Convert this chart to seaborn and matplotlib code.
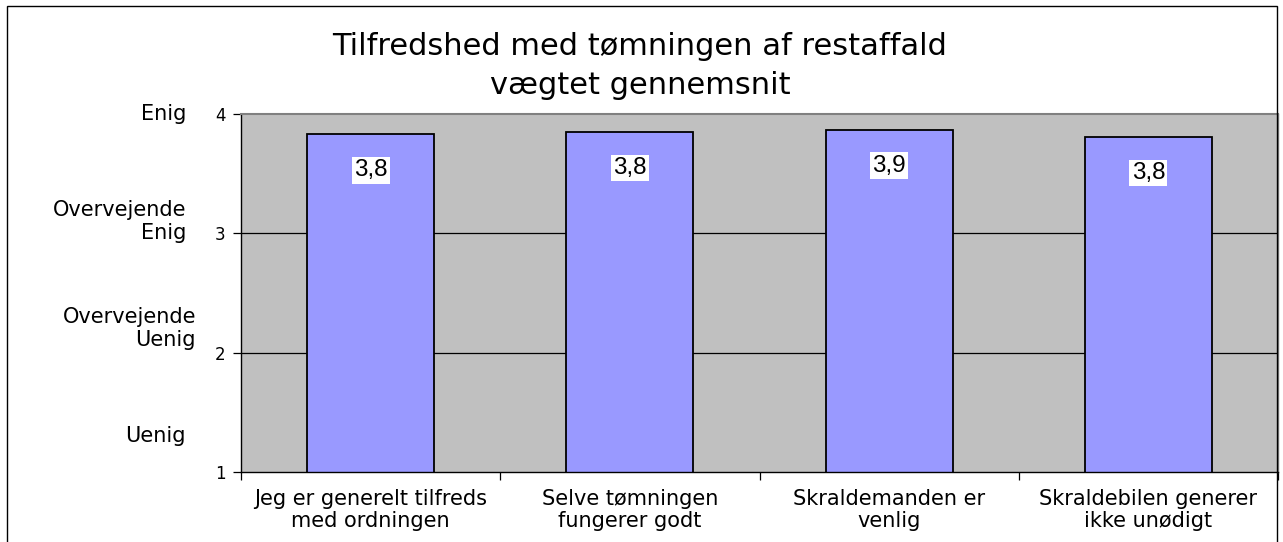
import numpy as np
import pandas as pd
import matplotlib
matplotlib.use("Agg")
import matplotlib.pyplot as plt
import seaborn as sns
from matplotlib.patches import Rectangle
from matplotlib.transforms import blended_transform_factory

# ==============================
# data
# ==============================
categories = [
    "Jeg er generelt tilfreds\nmed ordningen",
    "Selve tømningen\nfungerer godt",
    "Skraldemanden er\nvenlig",
    "Skraldebilen generer\nikke unødigt",
]
values = [3.83, 3.85, 3.87, 3.81]
value_labels = ["3,8", "3,8", "3,9", "3,8"]

y_ticks = [1, 2, 3, 4]
scale_labels = ["Enig", "Overvejende\nEnig", "Overvejende\nUenig", "Uenig"]
scale_pos = [4.0, 3.1, 2.2, 1.3]

title = "Tilfredshed med tømningen af restaffald\nvægtet gennemsnit"

df = pd.DataFrame({"kategori": categories, "score": values})

# ==============================
# plot
# ==============================
sns.set_theme(style="white")
plt.rcParams["font.family"] = ["DejaVu Sans"]
plt.rcParams["text.color"] = "black"
plt.rcParams["xtick.color"] = "black"
plt.rcParams["ytick.color"] = "black"

fig = plt.figure(figsize=(12.83, 5.42), dpi=100)
ax = fig.add_axes([241 / 1283, 1 - 472 / 542, (1278 - 241) / 1283, (472 - 114) / 542])
ax.set_facecolor("#c0c0c0")

sns.barplot(data=df, x="kategori", y="score", ax=ax, color="#9999ff",
            saturation=1, width=0.49, edgecolor="black", linewidth=1.3)

ax.set_ylim(1, 4)
ax.set_xlim(-0.5, len(categories) - 0.5)
ax.set_yticks(y_ticks)
ax.set_yticklabels([str(t) for t in y_ticks], fontsize=12)
ax.set_xlabel("")
ax.set_ylabel("")

# gitterlinjer
for t in [2, 3]:
    ax.axhline(t, color="black", linewidth=0.9, zorder=0.5)

# x-akse: labels i midten, tick-mærker mellem kategorierne
ax.set_xticks(range(len(categories)))
ax.set_xticklabels(categories, fontsize=15, linespacing=1.12)
ax.set_xticks(np.arange(-0.5, len(categories), 1.0), minor=True)
ax.tick_params(axis="x", which="major", bottom=True, length=0, pad=12)
ax.tick_params(axis="x", which="minor", bottom=True, length=6, width=0.9,
               color="black", direction="out")
ax.tick_params(axis="y", left=True, length=6, width=0.9, color="black",
               direction="out", pad=5)

for side in ["left", "bottom"]:
    ax.spines[side].set_color("black")
    ax.spines[side].set_linewidth(1.0)
ax.spines["top"].set_color("#808080")
ax.spines["top"].set_linewidth(1.5)
ax.spines["right"].set_color("#808080")
ax.spines["right"].set_linewidth(1.0)

# værdietiketter
for i, (v, lab) in enumerate(zip(values, value_labels)):
    ax.annotate(lab, xy=(i, v), xytext=(0, -26), textcoords="offset points",
                ha="center", va="center", fontsize=17.5, family="Liberation Sans",
                color="black",
                bbox=dict(facecolor="white", edgecolor="none", pad=1.5))

# skala-tekster til venstre for y-aksen
trans = blended_transform_factory(fig.transFigure, ax.transData)
for lab, pos in zip(scale_labels, scale_pos):
    x_right = 196 / 1283 if "Uenig" in lab and "\n" in lab else 186 / 1283
    fig.text(x_right, pos, lab, transform=trans, ha="right", va="center",
             fontsize=15, linespacing=1.2)

fig.text(640 / 1283, 1 - 66 / 542, title, ha="center", va="center",
         fontsize=22, linespacing=1.45)

# ydre ramme
fig.patches.append(Rectangle((7 / 1283, -0.05), (1277 - 7) / 1283, 1.05 - 6 / 542,
                             transform=fig.transFigure, fill=False,
                             edgecolor="black", linewidth=1.0))

fig.savefig("out.png", dpi=100)
plt.close(fig)
